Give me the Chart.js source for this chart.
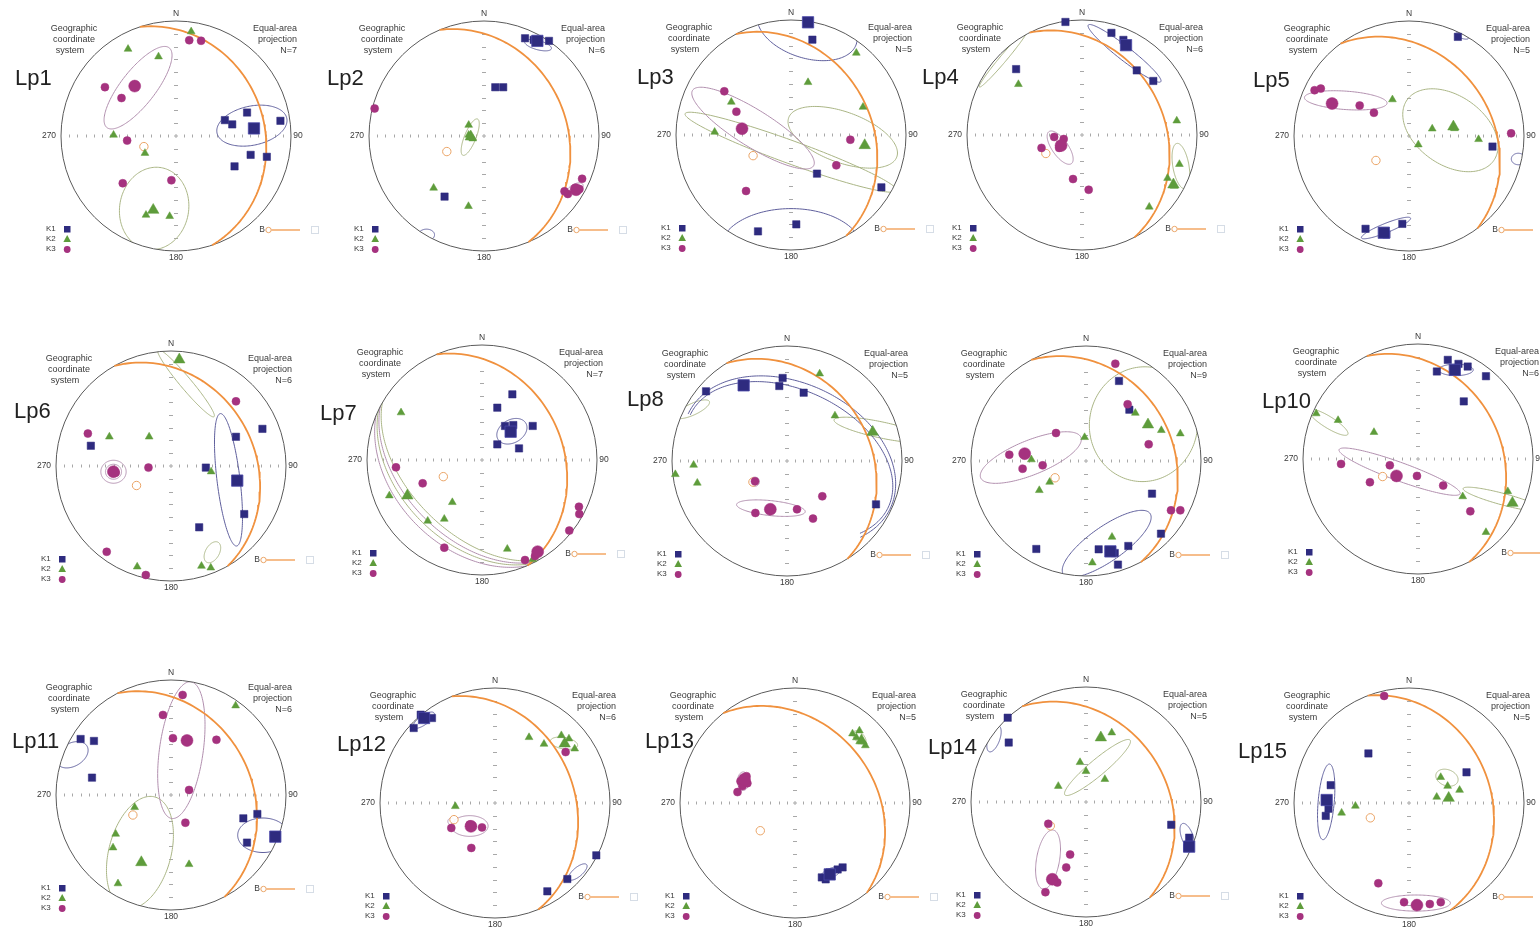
<!DOCTYPE html>
<html><head><meta charset="utf-8">
<script src="https://cdn.jsdelivr.net/npm/chart.js@4.4.0/dist/chart.umd.min.js"></script>
<style>
html,body{margin:0;padding:0;background:#fff;}
body{width:1540px;height:931px;overflow:hidden;position:relative;}
.net{position:absolute;width:380px;height:300px;}
</style></head><body>
<script>
// ---------------- DATA (unit equal-area coordinates: x = east, y = north) ----------------
const netLabels = ['Lp1','Lp2','Lp3','Lp4','Lp5','Lp6','Lp7','Lp8','','Lp10','Lp11','Lp12','Lp13','Lp14','Lp15'];
const sampleCounts = [7,6,5,6,5,6,7,5,9,6,6,6,5,5,5];
// bedding plane (great circle + pole): dip direction and dip, degrees
const beddingDipDir = [71.7,67.3,61.4,62.9,53.5,60.5,66.7,58.3,61.5,63.6,62.3,67.9,51.4,56.3,69];
const beddingDip    = [24,28.7,30.8,28.9,29.3,28.2,30,28.5,25,28.1,30.7,31.6,31.7,30.6,29.5];

const k1Points = [
 [[0.425,0.138],[0.489,0.101],[0.618,0.204],[0.908,0.132],[0.649,-0.164],[0.790,-0.181],[0.509,-0.264]],
 [[0.357,0.850],[0.432,0.836],[0.565,0.827],[0.098,0.424],[0.167,0.424],[-0.343,-0.527]],
 [[0.186,0.829],[0.226,-0.336],[0.786,-0.455],[0.046,-0.777],[-0.287,-0.838]],
 [[-0.144,0.983],[0.256,0.888],[0.360,0.827],[0.476,0.562],[0.620,0.470],[-0.573,0.573]],
 [[0.425,0.862],[0.726,-0.092],[-0.378,-0.807],[-0.058,-0.764],[-0.196,-0.856]],
 [[-0.697,0.176],[0.795,0.323],[0.565,0.254],[0.303,-0.014],[0.637,-0.418],[0.245,-0.533]],
 [[0.264,0.571],[0.133,0.455],[0.200,0.296],[0.272,0.304],[0.441,0.296],[0.133,0.136],[0.322,0.101]],
 [[-0.704,0.606],[-0.038,0.722],[-0.067,0.652],[0.145,0.594],[0.774,-0.377]],
 [[0.287,0.696],[0.377,0.446],[0.574,-0.284],[0.652,-0.632],[-0.432,-0.765],[0.110,-0.768],[0.368,-0.739],[0.278,-0.901],[0.25,-0.80]],
 [[0.259,0.862],[0.352,0.827],[0.432,0.804],[0.164,0.761],[0.591,0.720],[0.398,0.501]],
 [[-0.786,0.487],[-0.670,0.470],[-0.687,0.151],[0.629,-0.203],[0.751,-0.165],[0.661,-0.414]],
 [[-0.707,0.652],[-0.646,0.768],[-0.548,0.739],[0.881,-0.455],[0.629,-0.661],[0.455,-0.768]],
 [[0.233,-0.647],[0.302,-0.603],[0.371,-0.578],[0.414,-0.560],[0.267,-0.664]],
 [[-0.681,0.733],[-0.672,0.517],[0.741,-0.198],[0.897,-0.31],[0.88,-0.40]],
 [[-0.353,0.431],[-0.681,0.155],[-0.724,-0.112],[0.5,0.267],[-0.70,-0.05]]
];
const k1Means = [[0.678,0.066],[0.464,0.827],[0.148,0.980],[0.383,0.781],[-0.219,-0.841],[0.576,-0.127],[0.249,0.246],[-0.377,0.658],[0.212,-0.786],[0.320,0.775],[0.907,-0.362],[-0.617,0.739],[0.302,-0.621],[0.897,-0.388],[-0.716,0.026]];

const k2Points = [
 [[0.132,0.908],[-0.417,0.756],[-0.152,0.690],[-0.543,0.009],[-0.270,-0.149],[-0.261,-0.687],[-0.055,-0.698]],
 [[-0.133,0.095],[-0.133,0.009],[-0.098,-0.023],[-0.115,-0.012],[-0.438,-0.452],[-0.135,-0.611]],
 [[0.568,0.713],[0.148,0.458],[0.626,0.243],[-0.519,0.287],[-0.664,0.026]],
 [[-0.553,0.441],[0.824,0.124],[0.847,-0.254],[0.744,-0.375],[0.585,-0.625],[0.801,-0.444]],
 [[-0.144,0.317],[0.202,0.063],[0.605,-0.029],[0.081,-0.075],[0.395,0.066]],
 [[-0.536,0.254],[-0.190,0.254],[0.349,-0.049],[-0.294,-0.876],[0.265,-0.870],[0.346,-0.885]],
 [[-0.704,0.412],[-0.806,-0.310],[-0.258,-0.368],[-0.472,-0.530],[-0.328,-0.513],[0.220,-0.774],[0.441,-0.864]],
 [[0.284,0.759],[0.417,0.394],[-0.812,-0.035],[-0.971,-0.116],[-0.780,-0.191]],
 [[-0.012,0.206],[0.429,0.417],[0.655,0.267],[0.820,0.238],[-0.475,0.012],[-0.316,-0.183],[-0.406,-0.255],[0.226,-0.661],[0.055,-0.884]],
 [[-0.885,0.395],[-0.695,0.337],[-0.383,0.233],[0.389,-0.326],[0.781,-0.282],[0.591,-0.637]],
 [[0.562,0.777],[-0.316,-0.107],[-0.481,-0.339],[-0.504,-0.458],[0.157,-0.603],[-0.461,-0.770]],
 [[0.296,0.571],[0.426,0.513],[0.577,0.588],[0.643,0.559],[0.693,0.472],[-0.345,-0.029]],
 [[0.5,0.603],[0.534,0.569],[0.578,0.534],[0.612,0.5],[0.560,0.629]],
 [[-0.052,0.345],[0.224,0.603],[-0.241,0.138],[0.164,0.198],[0,0.267]],
 [[0.276,0.224],[0.336,0.147],[0.44,0.112],[0.241,0.052],[-0.466,-0.026],[-0.586,-0.086]]
];
const k2Means = [[-0.198,-0.644],[-0.115,-0.006],[0.641,-0.090],[0.795,-0.432],[0.386,0.081],[0.072,0.925],[-0.649,-0.310],[0.745,0.252],[0.539,0.316],[0.821,-0.383],[-0.258,-0.586],[0.606,0.516],[0.578,0.543],[0.129,0.56],[0.345,0.043]];

const k3Points = [
 [[0.115,0.833],[0.218,0.828],[-0.618,0.425],[-0.474,0.330],[-0.425,-0.040],[-0.463,-0.411],[-0.040,-0.385]],
 [[-0.951,0.239],[0.853,-0.372],[0.793,-0.452],[0.729,-0.504],[0.830,-0.461],[0.700,-0.481]],
 [[-0.580,0.380],[-0.475,0.203],[0.516,-0.041],[0.394,-0.264],[-0.391,-0.487]],
 [[-0.242,-0.017],[-0.159,-0.035],[-0.199,-0.112],[-0.352,-0.112],[-0.078,-0.383],[0.058,-0.476]],
 [[-0.821,0.398],[-0.767,0.412],[-0.429,0.265],[-0.305,0.202],[0.888,0.023]],
 [[-0.723,0.282],[-0.196,-0.014],[0.565,0.562],[-0.559,-0.746],[-0.219,-0.948],[-0.481,-0.058]],
 [[-0.748,-0.064],[-0.516,-0.203],[-0.328,-0.762],[0.843,-0.406],[0.846,-0.470],[0.759,-0.614],[0.461,-0.835],[0.374,-0.870]],
 [[-0.278,-0.177],[-0.275,-0.452],[0.087,-0.420],[0.307,-0.307],[0.226,-0.501]],
 [[0.255,0.846],[0.362,0.493],[0.545,0.145],[-0.261,0.243],[-0.667,0.055],[-0.551,-0.067],[-0.377,-0.038],[0.739,-0.429],[0.820,-0.429]],
 [[-0.669,-0.043],[-0.245,-0.055],[-0.418,-0.202],[-0.009,-0.147],[0.219,-0.231],[0.455,-0.455]],
 [[0.101,0.870],[-0.070,0.696],[0.017,0.494],[0.395,0.480],[0.157,0.044],[0.125,-0.241]],
 [[-0.380,-0.217],[-0.113,-0.212],[-0.206,-0.391],[0.614,0.443],[-0.22,-0.188]],
 [[-0.474,0.190],[-0.422,0.233],[-0.457,0.147],[-0.5,0.095],[-0.414,0.172]],
 [[-0.328,-0.19],[-0.138,-0.457],[-0.172,-0.569],[-0.353,-0.784],[-0.25,-0.70]],
 [[-0.216,0.931],[-0.267,-0.698],[-0.043,-0.862],[0.181,-0.879],[0.276,-0.862]]
];
const k3Means = [[-0.359,0.434],[0.801,-0.467],[-0.426,0.055],[-0.182,-0.092],[-0.669,0.282],[-0.501,-0.049],[0.484,-0.797],[-0.145,-0.420],[-0.533,0.064],[-0.187,-0.147],[0.139,0.474],[-0.209,-0.203],[-0.440,0.207],[-0.293,-0.672],[0.069,-0.888]];

// confidence ellipses: [centreX, centreY, semiA, semiB, rotationDeg, (startDeg, endDeg)]
const k1Ellipses = [
 [[0.66,0.09,0.31,0.17,12]],
 [[0.47,0.79,0.12,0.04,-15],[-0.5,-0.86,0.07,0.05,0]],
 [[0.14,0.93,0.45,0.26,-18],[0.0,-1.0,0.62,0.36,0]],
 [[0.37,0.71,0.40,0.06,-38]],
 [[-0.2,-0.8,0.23,0.04,22],[0.46,0.87,0.06,0.02,-20],[0.95,-0.2,0.06,0.05,0]],
 [[0.5,-0.12,0.58,0.1,97]],
 [[0.26,0.25,0.14,0.1,30]],
 [[0.02,0.0,0.97,0.68,-25,-30,180],[0.02,0.0,0.95,0.62,-25,-30,180]],
 [[0.18,-0.72,0.46,0.15,35]],
 [[0.33,0.775,0.15,0.05,0]],
 [[-0.86,0.35,0.15,0.1,30],[0.8,-0.35,0.22,0.15,0]],
 [[-0.62,0.72,0.11,0.04,35],[0.72,-0.6,0.1,0.04,40]],
 [[0.31,-0.61,0.1,0.04,25]],
 [[-0.8,0.55,0.12,0.05,70],[0.88,-0.3,0.12,0.05,-70]],
 [[-0.72,0.01,0.33,0.07,85]]
];
const k2Ellipses = [
 [[-0.19,-0.63,0.36,0.30,80]],
 [[-0.12,-0.01,0.17,0.05,68]],
 [[0.45,-0.02,0.5,0.22,-20],[0.0,-0.15,0.98,0.1,-20]],
 [[0.86,-0.27,0.2,0.07,-80],[-0.68,0.67,0.33,0.03,50]],
 [[0.36,0.05,0.46,0.3,-35]],
 [[0.13,0.72,0.38,0.05,-50],[0.36,-0.75,0.1,0.06,60]],
 [[0,0,1.05,0.66,-45,180,360],[0,0,1.05,0.75,-45,180,360]],
 [[0.82,0.27,0.42,0.07,-12],[-0.82,0.45,0.16,0.05,25]],
 [[0.5,0.32,0.5,0.47,80]],
 [[-0.78,0.32,0.2,0.05,-32],[0.74,-0.35,0.36,0.05,-15]],
 [[-0.27,-0.5,0.5,0.27,75]],
 [[0.6,0.52,0.12,0.05,-10]],
 [[0.56,0.57,0.07,0.04,-45]],
 [[0.1,0.3,0.37,0.07,40]],
 [[0.33,0.22,0.1,0.07,-20]]
];
const k3Ellipses = [
 [[-0.33,0.42,0.44,0.15,52]],
 [[0.79,-0.46,0.08,0.04,30]],
 [[-0.33,0.06,0.62,0.16,-32]],
 [[-0.19,-0.11,0.17,0.07,-55]],
 [[-0.55,0.31,0.36,0.08,-4]],
 [[-0.50,-0.05,0.11,0.1,0],[-0.50,-0.05,0.07,0.065,0]],
 [[0,0,1.05,0.71,-45,180,360],[0,0,1.05,0.80,-45,180,360]],
 [[-0.14,-0.41,0.30,0.065,-6],[-0.28,-0.18,0.04,0.04,0]],
 [[-0.48,0.03,0.47,0.15,22]],
 [[-0.16,-0.11,0.56,0.08,-20]],
 [[0.09,0.39,0.6,0.19,82]],
 [[-0.22,-0.2,0.16,0.09,0],[-0.38,-0.16,0.03,0.03,0]],
 [[-0.45,0.19,0.05,0.08,0]],
 [[-0.33,-0.5,0.26,0.1,80]],
 [[0.06,-0.87,0.3,0.07,0]]
];

// ---------------- LAYOUT / STYLE ----------------
const netCenters = [[175.7,136],[484,136],[790.7,135.3],[1082.3,135.3],[1409.3,136],
  [170.7,466],[482,460],[786.7,460.7],[1085.7,460.7],[1418.3,459],
  [171.3,795],[495.3,803.3],[795,803],[1086,802],[1409,803]];
const labelOffsets = [[-161,-51],[-157,-51],[-154,-51],[-160,-51],[-156,-49],
  [-157,-48],[-162,-40],[-160,-55],[0,0],[-156,-51],
  [-159,-47],[-158,-52],[-150,-55],[-158,-48],[-171,-45]];
const R = 115;
const K1C='#2e2b7f', K2C='#5e9c3b', K3C='#a5327f';
const K1E='#5f5f9c', K2E='#aab585', K3E='#b18fae';
const GC='#f0913e', POLE='#eaa466';
const FONT='"Liberation Sans", Arial, sans-serif';
const rad=Math.PI/180;

function project(trend, plunge){
  const r=Math.SQRT2*Math.sin((90-plunge)/2*rad);
  return {x:r*Math.sin(trend*rad), y:r*Math.cos(trend*rad)};
}
function greatCircle(dd, dip){
  const s=[Math.sin((dd-90)*rad),Math.cos((dd-90)*rad),0];
  const d=[Math.sin(dd*rad)*Math.cos(dip*rad),Math.cos(dd*rad)*Math.cos(dip*rad),Math.sin(dip*rad)];
  const out=[];
  for(let f=0;f<=180;f+=2){
    const c=Math.cos(f*rad), sn=Math.sin(f*rad);
    const v=[c*s[0]+sn*d[0], c*s[1]+sn*d[1], c*s[2]+sn*d[2]];
    const tr=Math.atan2(v[0],v[1])/rad, pl=Math.asin(Math.min(1,Math.max(-1,v[2])))/rad;
    out.push(project(tr,pl));
  }
  return out;
}
const toXY = p => ({x:p[0], y:p[1]});

const stereoPlugin = {
  id:'stereo',
  beforeDatasetsDraw(chart){
    const i=chart.options.plugins.stereo.index;
    const ctx=chart.ctx, xs=chart.scales.x, ys=chart.scales.y;
    const px=v=>xs.getPixelForValue(v), py=v=>ys.getPixelForValue(v);
    const cx=px(0), cy=py(0), r=px(1)-px(0);
    ctx.save();
    ctx.strokeStyle='#a8a8a8'; ctx.lineWidth=1;
    ctx.beginPath();
    for(let k=1;k<=13;k++){
      for(const sgn of [-1,1]){ const x=Math.round(px(sgn*k/14))+0.5; ctx.moveTo(x,cy-1.5); ctx.lineTo(x,cy+1.5); }
    }
    for(let k=1;k<=8;k++){
      for(const sgn of [-1,1]){ const y=Math.round(py(sgn*k/9))+0.5; ctx.moveTo(cx-2,y); ctx.lineTo(cx+2,y); }
    }
    ctx.moveTo(cx-2,cy); ctx.lineTo(cx+2,cy); ctx.moveTo(cx,cy-2); ctx.lineTo(cx,cy+2);
    ctx.stroke();
    // ellipses clipped to the primitive
    ctx.beginPath(); ctx.arc(cx,cy,r,0,2*Math.PI); ctx.clip();
    ctx.lineWidth=1;
    const sets=[[k2Ellipses[i],K2E],[k3Ellipses[i],K3E],[k1Ellipses[i],K1E]];
    for(const [list,col] of sets){
      ctx.strokeStyle=col;
      for(const e of list){
        const [ex,ey,a,b,ang,t0=0,t1=360]=e; const th=ang*rad;
        ctx.beginPath();
        const n=160;
        for(let j=0;j<=n;j++){
          const t=(t0+(t1-t0)*j/n)*rad;
          const x=ex+a*Math.cos(t)*Math.cos(th)-b*Math.sin(t)*Math.sin(th);
          const y=ey+a*Math.cos(t)*Math.sin(th)+b*Math.sin(t)*Math.cos(th);
          if(j) ctx.lineTo(px(x),py(y)); else ctx.moveTo(px(x),py(y));
        }
        ctx.stroke();
      }
    }
    ctx.restore();
    ctx.save();
    ctx.strokeStyle='#5a5a5a'; ctx.lineWidth=1;
    ctx.beginPath(); ctx.arc(cx,cy,r,0,2*Math.PI); ctx.stroke();
    ctx.restore();
  },
  afterDraw(chart){
    const i=chart.options.plugins.stereo.index;
    const ctx=chart.ctx, xs=chart.scales.x, ys=chart.scales.y;
    const cx=xs.getPixelForValue(0), cy=ys.getPixelForValue(0);
    ctx.save();
    ctx.fillStyle='#3a3a3a'; ctx.textBaseline='middle';
    ctx.font='8.5px '+FONT; ctx.textAlign='center';
    ctx.fillText('N',cx,cy-122);
    ctx.fillText('180',cx,cy+122);
    ctx.fillText('270',cx-127,cy);
    ctx.fillText('90',cx+122,cy);
    ctx.font='9px '+FONT;
    ctx.fillText('Geographic',cx-102,cy-107);
    ctx.fillText('coordinate',cx-102,cy-96);
    ctx.fillText('system',cx-106,cy-85);
    ctx.textAlign='right';
    ctx.fillText('Equal-area',cx+121,cy-107);
    ctx.fillText('projection',cx+121,cy-96);
    ctx.fillText('N='+sampleCounts[i],cx+121,cy-85);
    if(netLabels[i]){
      ctx.font='22px '+FONT; ctx.fillStyle='#222'; ctx.textAlign='left'; ctx.textBaseline='alphabetic';
      ctx.fillText(netLabels[i],cx+labelOffsets[i][0],cy+labelOffsets[i][1]);
    }
    // K legend
    ctx.font='8px '+FONT; ctx.fillStyle='#3a3a3a'; ctx.textAlign='left'; ctx.textBaseline='middle';
    ctx.fillText('K1',cx-130,cy+93); ctx.fillText('K2',cx-130,cy+103); ctx.fillText('K3',cx-130,cy+113);
    ctx.fillStyle=K1C; ctx.fillRect(cx-112,cy+90,6.5,6.5);
    ctx.fillStyle=K2C; ctx.beginPath(); ctx.moveTo(cx-108.8,cy+99); ctx.lineTo(cx-105,cy+106); ctx.lineTo(cx-112.6,cy+106); ctx.closePath(); ctx.fill();
    ctx.fillStyle=K3C; ctx.beginPath(); ctx.arc(cx-108.8,cy+113.5,3.4,0,2*Math.PI); ctx.fill();
    // B legend
    ctx.fillStyle='#3a3a3a'; ctx.font='8.5px '+FONT; ctx.textAlign='center';
    ctx.fillText('B',cx+86,cy+94);
    ctx.strokeStyle=POLE; ctx.lineWidth=1;
    ctx.beginPath(); ctx.arc(cx+92.5,cy+94,2.7,0,2*Math.PI); ctx.stroke();
    ctx.strokeStyle=GC; ctx.lineWidth=1.2;
    ctx.beginPath(); ctx.moveTo(cx+95.5,cy+94); ctx.lineTo(cx+124,cy+94); ctx.stroke();
    ctx.strokeStyle='#d6dde6'; ctx.lineWidth=1;
    ctx.strokeRect(cx+135.5,cy+90.5,7,7);
    ctx.restore();
  }
};

function makeNet(i){
  const [cx,cy]=netCenters[i];
  const div=document.createElement('div'); div.className='net';
  div.style.left=(cx-190)+'px'; div.style.top=(cy-150)+'px';
  const cv=document.createElement('canvas'); cv.width=380; cv.height=300;
  div.appendChild(cv); document.body.appendChild(div);
  const pole=project(beddingDipDir[i]+180, 90-beddingDip[i]);
  const ds=[
    {label:'K3 mean',data:[toXY(k3Means[i])],pointStyle:'circle',pointRadius:6,backgroundColor:K3C,borderColor:K3C,borderWidth:0.5},
    {label:'K2 mean',data:[toXY(k2Means[i])],pointStyle:'triangle',pointRadius:6.6,backgroundColor:K2C,borderColor:K2C,borderWidth:0.5},
    {label:'K1 mean',data:[toXY(k1Means[i])],pointStyle:'rect',pointRadius:8,backgroundColor:K1C,borderColor:'#4a48a8',borderWidth:0.8},
    {label:'K3',data:k3Points[i].map(toXY),pointStyle:'circle',pointRadius:4,backgroundColor:K3C,borderColor:K3C,borderWidth:0.5},
    {label:'K2',data:k2Points[i].map(toXY),pointStyle:'triangle',pointRadius:4.5,backgroundColor:K2C,borderColor:K2C,borderWidth:0.5},
    {label:'K1',data:k1Points[i].map(toXY),pointStyle:'rect',pointRadius:5.2,backgroundColor:K1C,borderColor:K1C,borderWidth:0.5},
    {label:'B pole',data:[pole],pointStyle:'circle',pointRadius:4.2,backgroundColor:'rgba(255,255,255,0.9)',borderColor:POLE,borderWidth:1},
    {label:'Bedding',data:greatCircle(beddingDipDir[i],beddingDip[i]),showLine:true,pointRadius:0,borderColor:GC,borderWidth:1.8,tension:0,fill:false}
  ];
  ds.forEach(d=>{d.clip=false;});
  new Chart(cv,{
    type:'scatter',
    data:{datasets:ds},
    options:{
      responsive:false, animation:false, events:[],
      layout:{padding:{left:190-R,right:190-R,top:150-R,bottom:150-R}},
      scales:{x:{type:'linear',min:-1,max:1,display:false},y:{type:'linear',min:-1,max:1,display:false}},
      plugins:{legend:{display:false},tooltip:{enabled:false},stereo:{index:i}}
    },
    plugins:[stereoPlugin]
  });
}
for(let i=0;i<15;i++) makeNet(i);
</script>
</body></html>
